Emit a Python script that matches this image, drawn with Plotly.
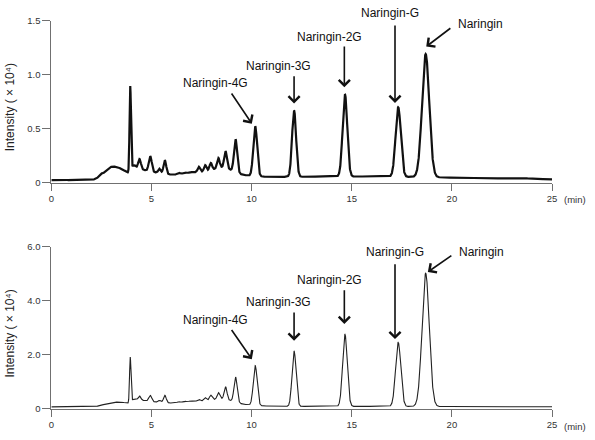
import numpy as np
import plotly.graph_objects as go

W, H = 595, 440

# ---------------- data ----------------
x_ticks = [0, 5, 10, 15, 20, 25]
x_tick_text = ["0", "5", "10", "15", "20", "25"]
top_y_ticks = [0, 0.5, 1.0, 1.5]
top_y_text = ["0", "0.5", "1.0", "1.5"]
bot_y_ticks = [0, 2.0, 4.0, 6.0]
bot_y_text = ["0", "2.0", "4.0", "6.0"]

# peak table of the two chromatograms: retention time (min), peak width (sigma, min)
peak_time = [2.45, 3.0, 3.55, 3.94, 4.1, 4.5, 4.4, 4.94, 5.4, 5.39, 5.67,
             6.35, 6.65, 6.95, 7.5, 8.6, 7.36, 7.68, 7.96, 8.34, 8.7, 9.2,
             10.18, 12.12, 14.66, 17.32, 18.69, 15.0, 23.5]
peak_sigma = [0.08, 0.35, 0.25, 0.035, 0.12, 0.4, 0.07, 0.075, 0.3, 0.05, 0.065,
              0.06, 0.06, 0.06, 1.5, 0.45, 0.06, 0.06, 0.065, 0.065, 0.07, 0.08,
              0.095, 0.10, 0.115, 0.13, 0.18, 6.0, 0.3]
# heights (x10^4)
top_height = [0.021, 0.114, 0.055, 0.78, 0.075, 0.08, 0.10, 0.145, 0.035, 0.033, 0.121,
              0.012, 0.008, 0.006, 0.06, 0.05, 0.048, 0.057, 0.067, 0.093, 0.155, 0.304,
              0.461, 0.613, 0.76, 0.642, 1.136, 0.035, 0.008]
bottom_height = [0.03, 0.15, 0.108, 1.665, 0.13, 0.20, 0.176, 0.235, 0.088, 0.056, 0.26,
                 0.03, 0.025, 0.02, 0.21, 0.12, 0.064, 0.112, 0.181, 0.235, 0.464, 0.933,
                 1.468, 2.045, 2.665, 2.366, 4.918, 0.02, 0.01]
top_offset = 0.025
bottom_offset = 0.075

labels = ["Naringin-4G", "Naringin-3G", "Naringin-2G", "Naringin-G", "Naringin"]
# arrow tip / tail (data units)
top_tip_t = [10.01, 12.12, 14.63, 17.16, 18.72]
top_tip_v = [0.548, 0.734, 0.885, 0.74, 1.26]
top_tail_t = [8.95, 12.12, 14.63, 17.16, 20.0]
top_tail_v = [0.84, 1.0, 1.275, 1.47, 1.44]
bot_tip_t = [10.01, 12.12, 14.63, 17.16, 18.8]
bot_tip_v = [1.84, 2.52, 3.14, 2.58, 5.06]
bot_tail_t = [8.95, 12.12, 14.63, 17.16, 20.05]
bot_tail_v = [2.97, 3.62, 4.44, 5.40, 5.70]
# label centres (pixels in the 595x440 picture)
top_lab_px = [(215.8, 79), (279, 62), (330.5, 31.7), (392.5, 6.7), (484, 18)]
bot_lab_px = [(215.8, 322.3), (279, 304), (330.5, 280.7), (397.8, 252.7), (485, 252)]

# ---------------- build traces ----------------
t = np.linspace(0, 25, 5001)


def chromatogram(heights, offset):
    y = np.full_like(t, offset)
    for c, s, h in zip(peak_time, peak_sigma, heights):
        y += h * np.exp(-((t - c) ** 2) / (2 * s * s))
    return y


y_top = chromatogram(top_height, top_offset)
y_bot = chromatogram(bottom_height, bottom_offset)

FONT = "Arial, Liberation Sans, sans-serif"
AX = "#707070"

fig = go.Figure()
fig.add_trace(go.Scatter(x=t, y=y_top, mode="lines", line=dict(color="#111111", width=2.2),
                         xaxis="x", yaxis="y", showlegend=False, hoverinfo="skip"))
fig.add_trace(go.Scatter(x=t, y=y_bot, mode="lines", line=dict(color="#222222", width=1.1),
                         xaxis="x2", yaxis="y2", showlegend=False, hoverinfo="skip"))

xdom = [49 / W, 556.5 / W]
top_dom = [1 - 181.5 / H, 1 - 15 / H]
bot_dom = [1 - 413.3 / H, 1 - 246.7 / H]

xcommon = dict(range=[0, 25], domain=xdom, showline=True, linecolor=AX, linewidth=1,
               ticks="outside", ticklen=7, tickcolor=AX, tickwidth=1,
               tickvals=x_ticks, ticktext=x_tick_text, showgrid=False, zeroline=False,
               tickfont=dict(family=FONT, size=9.5, color="#333333"))
ycommon = dict(showline=True, linecolor=AX, linewidth=1, ticks="outside", ticklen=8,
               tickcolor=AX, tickwidth=1, showgrid=False, zeroline=False,
               tickfont=dict(family=FONT, size=9.5, color="#333333"))

fig.update_layout(
    width=W, height=H, margin=dict(l=0, r=0, t=0, b=0, pad=0),
    paper_bgcolor="white", plot_bgcolor="white",
    xaxis=dict(anchor="y", **xcommon),
    yaxis=dict(anchor="x", domain=top_dom, range=[0, 1.5], tickvals=top_y_ticks,
               ticktext=top_y_text, **ycommon),
    xaxis2=dict(anchor="y2", **xcommon),
    yaxis2=dict(anchor="x2", domain=bot_dom, range=[0, 6.0], tickvals=bot_y_ticks,
                ticktext=bot_y_text, **ycommon),
)

ann = []
for xr, yr, tips_t, tips_v, tails_t, tails_v, labpx in [
    ("x", "y", top_tip_t, top_tip_v, top_tail_t, top_tail_v, top_lab_px),
    ("x2", "y2", bot_tip_t, bot_tip_v, bot_tail_t, bot_tail_v, bot_lab_px),
]:
    for i, name in enumerate(labels):
        ann.append(dict(x=tips_t[i], y=tips_v[i], xref=xr, yref=yr,
                        ax=tails_t[i], ay=tails_v[i], axref=xr, ayref=yr,
                        text="", showarrow=True, arrowhead=4, arrowsize=1.35,
                        arrowwidth=1.6, arrowcolor="#111111", standoff=0))
        px, py = labpx[i]
        ann.append(dict(x=px / W, y=1 - py / H, xref="paper", yref="paper",
                        text=name, showarrow=False, xanchor="center", yanchor="middle",
                        font=dict(family=FONT, size=12, color="#111111")))
for py in (198.3, 431.7):
    ann.append(dict(x=579.7 / W, y=1 - py / H, xref="paper", yref="paper", text="(min)",
                    showarrow=False, xanchor="center", yanchor="middle",
                    font=dict(family=FONT, size=9.5, color="#333333")))
for py in (103.5, 335.5):
    ann.append(dict(x=7.5 / W, y=1 - py / H, xref="paper", yref="paper",
                    text="Intensity ( × 10\u2074)", textangle=-90,
                    showarrow=False, xanchor="center", yanchor="middle",
                    font=dict(family=FONT, size=12, color="#222222")))
fig.update_layout(annotations=ann)

fig.write_html("out.html")
